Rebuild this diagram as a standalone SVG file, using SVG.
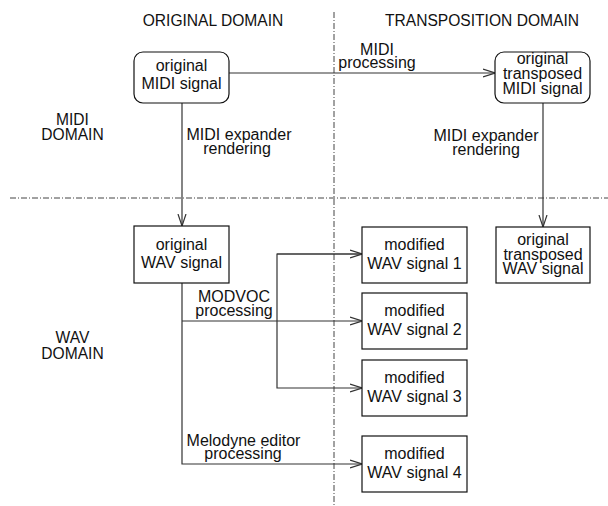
<svg xmlns="http://www.w3.org/2000/svg" width="608" height="506" viewBox="0 0 608 506">
  <style>
    text { font-family: "Liberation Sans", Arial, sans-serif; fill: #111; }
    .t { font-size: 16px; text-anchor: middle; }
    .h { font-size: 15.6px; text-anchor: middle; }
    .box { fill: #fff; stroke: #111; stroke-width: 1.2; }
    .sep { fill: none; stroke: #444; stroke-width: 1; stroke-dasharray: 6 2 1 2; }
    .wire { fill: none; stroke: #333; stroke-width: 1.2; }
  </style>
  <defs>
    <marker id="arrow" viewBox="0 0 12 10" refX="12" refY="5" markerWidth="12" markerHeight="10" markerUnits="userSpaceOnUse" orient="auto">
      <path d="M0,1 L12,5 L0,9" fill="none" stroke="#333" stroke-width="1.2"/>
    </marker>
  </defs>

  <!-- domain separators -->
  <g id="separators">
    <line class="sep" x1="334" y1="12" x2="334" y2="506"/>
    <line class="sep" x1="10" y1="198" x2="608" y2="198"/>
  </g>

  <!-- domain headings -->
  <g id="headings">
    <text class="h" x="213" y="26">ORIGINAL DOMAIN</text>
    <text class="h" x="482" y="26">TRANSPOSITION DOMAIN</text>
    <text class="h" x="72.5" y="125">MIDI</text>
    <text class="h" x="72.5" y="140">DOMAIN</text>
    <text class="h" x="72.5" y="343">WAV</text>
    <text class="h" x="72.5" y="359">DOMAIN</text>
  </g>

  <!-- connectors -->
  <g id="connectors">
    <line class="wire" x1="229" y1="73" x2="495" y2="73" marker-end="url(#arrow)"/>
    <line class="wire" x1="182" y1="103" x2="182" y2="226" marker-end="url(#arrow)"/>
    <line class="wire" x1="543" y1="103" x2="543" y2="227" marker-end="url(#arrow)"/>
    <polyline class="wire" points="182,283 182,464 362,464" marker-end="url(#arrow)"/>
    <line class="wire" x1="182" y1="321" x2="362" y2="321" marker-end="url(#arrow)"/>
    <polyline class="wire" points="362,254 277,254 277,388 362,388" marker-end="url(#arrow)"/>
    <line class="wire" x1="277" y1="254" x2="362" y2="254" marker-end="url(#arrow)"/>
  </g>

  <!-- connector labels -->
  <g id="labels">
    <text class="t" x="377" y="55">MIDI</text>
    <text class="t" x="377" y="68">processing</text>
    <text class="t" x="239" y="140">MIDI expander</text>
    <text class="t" x="237" y="154">rendering</text>
    <text class="t" x="486" y="141">MIDI expander</text>
    <text class="t" x="486" y="155">rendering</text>
    <text class="t" x="234" y="302">MODVOC</text>
    <text class="t" x="234" y="316">processing</text>
    <text class="t" x="243.5" y="446">Melodyne editor</text>
    <text class="t" x="243" y="459">processing</text>
  </g>

  <g id="orig-midi">
    <rect class="box" x="134" y="52" width="95" height="51" rx="9"/>
    <text class="t" x="181.5" y="71">original</text>
    <text class="t" x="181.5" y="89">MIDI signal</text>
  </g>

  <g id="trans-midi">
    <rect class="box" x="495" y="52" width="95" height="51" rx="9"/>
    <text class="t" x="542.5" y="64">original</text>
    <text class="t" x="542.5" y="79">transposed</text>
    <text class="t" x="542.5" y="94">MIDI signal</text>
  </g>

  <g id="orig-wav">
    <rect class="box" x="134" y="226" width="95" height="57"/>
    <text class="t" x="181.5" y="250">original</text>
    <text class="t" x="181.5" y="268">WAV signal</text>
  </g>

  <g id="trans-wav">
    <rect class="box" x="496" y="227" width="94" height="56"/>
    <text class="t" x="543" y="245">original</text>
    <text class="t" x="543" y="260">transposed</text>
    <text class="t" x="543" y="274">WAV signal</text>
  </g>

  <g id="mod-wav-1">
    <rect class="box" x="362" y="227" width="105" height="56"/>
    <text class="t" x="414.5" y="250">modified</text>
    <text class="t" x="414.5" y="269">WAV signal 1</text>
  </g>

  <g id="mod-wav-2">
    <rect class="box" x="362" y="293" width="105" height="56"/>
    <text class="t" x="414.5" y="316">modified</text>
    <text class="t" x="414.5" y="335">WAV signal 2</text>
  </g>

  <g id="mod-wav-3">
    <rect class="box" x="362" y="360" width="105" height="56"/>
    <text class="t" x="414.5" y="383">modified</text>
    <text class="t" x="414.5" y="402">WAV signal 3</text>
  </g>

  <g id="mod-wav-4">
    <rect class="box" x="362" y="436" width="105" height="56"/>
    <text class="t" x="414.5" y="459">modified</text>
    <text class="t" x="414.5" y="478">WAV signal 4</text>
  </g>
</svg>
